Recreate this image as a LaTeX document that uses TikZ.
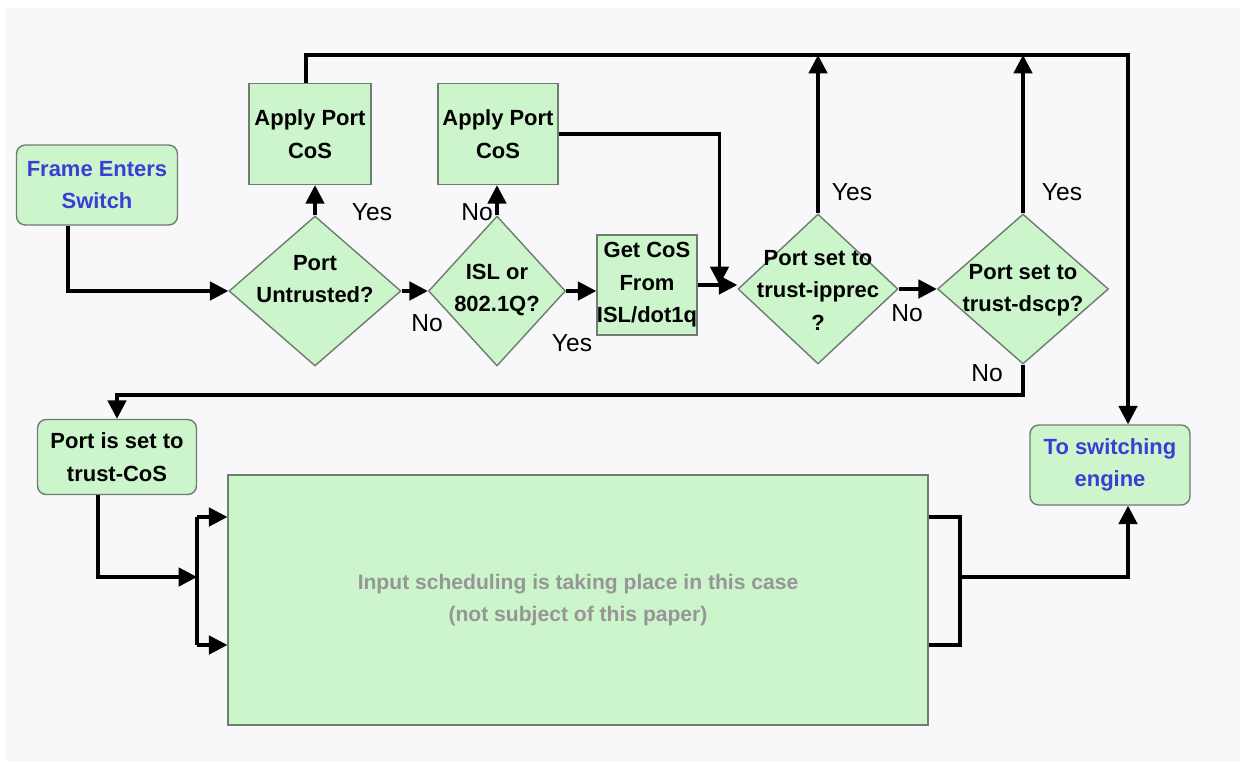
\documentclass[tikz,border=0pt]{standalone}
\usepackage{fontspec}
\setmainfont{Liberation Sans}
\usetikzlibrary{shapes.geometric, arrows.meta, calc}
\definecolor{boxfill}{RGB}{204,245,204}
\definecolor{boxline}{RGB}{110,125,110}
\definecolor{engblue}{RGB}{60,60,215}
\definecolor{schedgray}{RGB}{150,150,150}
\definecolor{pagebg}{RGB}{248,247,250}
\tikzset{
  box/.style={draw=boxline, fill=boxfill, line width=0.8pt, align=center, inner sep=0pt,
    font=\fontsize{12.5}{18.5}\selectfont\bfseries},
  rbox/.style={box, rounded corners=5pt},
  decision/.style={diamond, draw=boxline, fill=boxfill, line width=0.8pt, inner sep=0pt},
  dtext/.style={align=center, inner sep=0pt, font=\fontsize{12.5}{18.5}\selectfont\bfseries},
  link/.style={line width=2pt},
  flow/.style={link, -{Triangle[length=10.5pt,width=10.5pt]}},
  answer/.style={inner sep=0pt, font=\fontsize{14}{16}\selectfont},
}

\begin{document}
\begin{tikzpicture}[x=0.02cm, y=-0.02cm]
    \useasboundingbox (0,0) rectangle (1240,761);
    \fill[white] (0,0) rectangle (1240,761);
    \fill[pagebg] (6,8) rectangle (1240,761);

    % boxes
    \node[rbox, text=engblue, minimum width=3.22cm, minimum height=1.6cm] (frame) at (97,185) {Frame Enters\\Switch};
    \node[box, minimum width=2.44cm, minimum height=2.02cm] (apply1) at (310,134) {Apply Port\\CoS};
    \node[box, minimum width=2.4cm, minimum height=2.02cm] (apply2) at (498,134) {Apply Port\\CoS};
    \node[box, minimum width=2cm, minimum height=2cm] (getcos) at (647,285) {Get CoS\\From\\ISL/dot1q};
    \node[rbox, minimum width=3.18cm, minimum height=1.5cm] (portset) at (117,457) {Port is set to\\trust-CoS};
    \node[rbox, text=engblue, minimum width=3.2cm, minimum height=1.6cm] (toswitch) at (1110,465) {To switching\\engine};
    \node[box, text=schedgray, font=\fontsize{12}{18.5}\selectfont\bfseries, minimum width=14cm, minimum height=5cm] (sched) at (578,600)
        {Input scheduling is taking place in this case\\(not subject of this paper)};

    % decisions
    \node[decision, minimum width=3.44cm, minimum height=3cm] (d1) at (315,291) {};
    \node[decision, minimum width=2.74cm, minimum height=3cm] (d2) at (497,291) {};
    \node[decision, minimum width=3.2cm, minimum height=3cm] (d3) at (818,289) {};
    \node[decision, minimum width=3.42cm, minimum height=3cm] (d4) at (1023,289) {};
    \node[dtext] (d1txt) at (315,279) {Port\\Untrusted?};
    \node[dtext] (d2txt) at (497,290) {ISL or\\802.1Q?};
    \node[dtext] (d3txt) at (818,290) {Port set to\\trust-ipprec\\?};
    \node[dtext] (d4txt) at (1023,290) {Port set to\\trust-dscp?};

    % answers
    \node[answer] (yes1) at (372,212) {Yes};
    \node[answer] (no1) at (427,323) {No};
    \node[answer] (no2) at (477,212) {No};
    \node[answer] (yes2) at (572,343) {Yes};
    \node[answer] (yes3) at (852,192) {Yes};
    \node[answer] (no3) at (907,313) {No};
    \node[answer] (yes4) at (1062,192) {Yes};
    \node[answer] (no4) at (987,373) {No};

    \coordinate (ring) at (1128,55);
    \coordinate (join) at ($(getcos.east)!0.55!(getcos.east -| d3.west)$);
    \coordinate (back) at (117,395);
    \coordinate (bustop) at (197,517);
    \coordinate (busmid) at (197,577);
    \coordinate (busbot) at (197,645);
    \coordinate (outtop) at (960,517);
    \coordinate (outmid) at (960,577);
    \coordinate (outbot) at (960,645);

    % connectors
    \draw[flow] ([xshift=-0.58cm]frame.south) |- (d1.west);
    \draw[flow] (d1.north) -- (d1.north |- apply1.south);
    \draw[flow] (d1.east) -- (d2.west);
    \draw[flow] (d2.north) -- (d2.north |- apply2.south);
    \draw[flow] (d2.east) -- (d2.east -| getcos.west);
    \draw[flow] (getcos.east) -- (getcos.east -| d3.west);
    \draw[flow] (apply2.east) -| (join);
    \draw[flow] (d3.east) -- (d4.west);
    \draw[flow] ([xshift=-0.08cm]apply1.north) |- (ring) -- (ring |- toswitch.north);
    \draw[flow] (d3.north) -- (d3.north |- ring);
    \draw[flow] (d4.north) -- (d4.north |- ring);
    \draw[flow] (d4.south) |- (back) -- (portset.north);
    \draw[flow] ([xshift=-0.38cm]portset.south) |- (busmid);
    \draw[link] (bustop) -- (busbot);
    \draw[flow] (bustop) -- (bustop -| sched.west);
    \draw[flow] (busbot) -- (busbot -| sched.west);
    \draw[link] (outtop -| sched.east) -- (outtop) -- (outbot) -- (outbot -| sched.east);
    \draw[flow] (outmid) -| (ring |- toswitch.south);
\end{tikzpicture}
\end{document}
